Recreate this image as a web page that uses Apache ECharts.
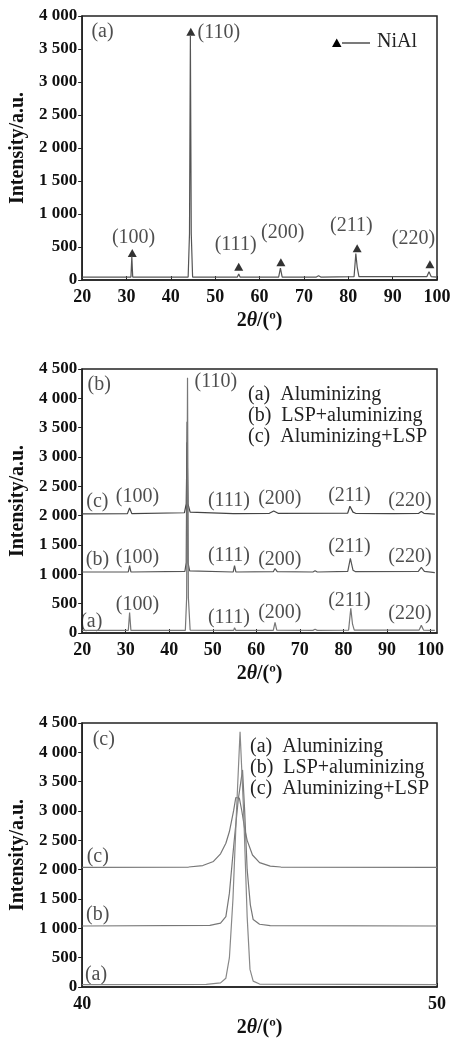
<!DOCTYPE html>
<html><head><meta charset="utf-8">
<style>html,body{margin:0;padding:0;background:#fff}#c{width:455px;height:1039px}</style>
<script src="https://cdn.jsdelivr.net/npm/echarts@6/dist/echarts.min.js"></script>
</head><body><div id="c"></div>
<script>
// ---------- Panel 1: NiAl pattern ----------
const p1Pattern = [[20,45],[31.0,45],[31.2,360],[31.4,45],[43.9,45],[44.2,700],[44.4,3700],[44.6,700],[44.9,45],
  [55.0,45],[55.3,90],[55.6,45],[64.3,45],[64.7,180],[65.1,45],[72.8,45],[73.3,65],[73.8,45],
  [81.3,50],[81.7,400],[82.0,200],[82.4,50],[97.7,50],[98.2,125],[98.7,50],[100,45]];
const p1Triangles = [[31.3,410],[44.5,3760],[55.3,200],[64.8,270],[82.0,480],[98.4,240]];
const p1LabelsCenter = [[31.6,636,'(100)'],[54.6,530,'(111)'],[65.2,710,'(200)'],[80.7,820,'(211)'],[94.7,620,'(220)']];
const p1LabelsLeft = [[46.0,3745,'(110)'],[22.1,3760,'(a)']];

// ---------- Panel 2: three samples, 20-100 ----------
const seriesNames = ['(a)  Aluminizing','(b)  LSP+aluminizing','(c)  Aluminizing+LSP'];
const p2A = [[20,45],[30.6,45],[30.9,350],[31.2,45],[43.7,45],[44.0,600],[44.2,4350],[44.4,600],[44.8,50],
  [54.8,45],[55.0,90],[55.3,45],[63.9,45],[64.3,180],[64.7,50],[73,45],[73.5,65],[74,45],
  [81.2,50],[81.7,420],[82.1,150],[82.5,50],[97.4,50],[97.9,130],[98.4,50],[101,45]];
const p2B = [[20,1040],[30.6,1040],[30.9,1150],[31.2,1040],[43.6,1050],[43.9,1200],[44.1,3600],[44.3,1200],[44.7,1060],
  [54.7,1040],[55.0,1150],[55.3,1040],[63.9,1045],[64.3,1100],[64.8,1045],[73,1040],[73.5,1060],[74,1040],
  [81,1050],[81.6,1270],[82.2,1070],[82.8,1045],[97.2,1050],[97.9,1120],[98.6,1050],[101,1030]];
const p2C = [[20,2030],[30.4,2035],[30.9,2130],[31.4,2035],[43.5,2050],[43.9,2200],[44.1,3250],[44.3,2200],[44.8,2060],
  [54.7,2035],[55.0,2060],[55.3,2035],[63.0,2040],[64.0,2080],[65,2040],[81,2045],[81.5,2160],[82.2,2060],[82.8,2040],
  [90.8,2035],[91.2,2055],[91.6,2035],[97.3,2040],[97.9,2070],[98.5,2040],[101,2025]];
const p2LabelsCenter = [
  [23.5,2233,'(c)'],[32.7,2318,'(100)'],[53.7,2250,'(111)'],[65.4,2284,'(200)'],[81.4,2335,'(211)'],[95.3,2250,'(220)'],
  [23.5,1244,'(b)'],[32.7,1278,'(100)'],[53.7,1312,'(111)'],[65.4,1244,'(200)'],[81.4,1466,'(211)'],[95.3,1295,'(220)'],
  [22.1,187,'(a)'],[32.7,477,'(100)'],[53.7,256,'(111)'],[65.4,341,'(200)'],[81.4,545,'(211)'],[95.3,324,'(220)'],
  [23.9,4227,'(b)']];
const p2LabelsLeft = [[45.8,4278,'(110)']];

// ---------- Panel 3: zoom on (110), 40-50 ----------
const p3A = [[40,40],[43.5,45],[43.9,70],[44.05,150],[44.15,500],[44.25,1500],[44.35,3000],[44.45,4350],
  [44.55,3000],[44.65,1200],[44.73,300],[44.82,100],[45,50],[50,40]];
const p3B = [[40,1040],[43.6,1050],[43.9,1090],[44.05,1200],[44.15,1600],[44.27,2400],[44.4,3200],[44.52,3700],
  [44.58,3000],[44.65,2000],[44.74,1400],[44.82,1150],[45.0,1070],[45.3,1045],[50,1040]];
const p3C = [[40,2040],[43.0,2045],[43.4,2070],[43.7,2140],[43.9,2270],[44.05,2450],[44.15,2650],[44.27,3010],
  [44.33,3230],[44.38,3200],[44.43,3220],[44.5,3000],[44.58,2700],[44.65,2500],[44.8,2250],[45.0,2120],
  [45.3,2060],[45.6,2045],[50,2040]];
const p3LabelsCenter = [[40.61,4210,'(c)'],[40.44,2216,'(c)'],[40.44,1227,'(b)'],[40.39,205,'(a)']];

const yTicks1 = {min:0, max:4000, interval:500};
const yTicks23 = {min:0, max:4500, interval:500};

const SERIF = '"Liberation Serif","DejaVu Serif",serif';
function fmtY(v){ return v>=1000 ? Math.floor(v/1000)+' '+String(v%1000).padStart(3,'0') : String(v); }

const grids = [
  {left:76, top:16, width:361, height:264},
  {left:76, top:369, width:361, height:264},
  {left:76, top:723, width:361, height:264}
].map(g=>Object.assign(g,{show:true, borderColor:'#222', borderWidth:1.5, backgroundColor:'transparent'}));

function xAx(i,min,max,interval){
  return {type:'value', gridIndex:i, min, max, interval,
    name:'{n|2}{i|θ}{n|/(º)}', nameLocation:'middle', nameGap:31,
    nameTextStyle:{rich:{n:{fontFamily:SERIF,fontSize:20,fontWeight:'bold',color:'#111'},i:{fontFamily:SERIF,fontSize:20,fontWeight:'bold',fontStyle:'italic',color:'#111'}}},
    axisLine:{show:true,onZero:false,lineStyle:{color:'#222',width:1.5}},
    axisTick:{show:true,inside:true,length:4,lineStyle:{color:'#222'}},
    axisLabel:{margin:8,fontFamily:SERIF,fontSize:18,fontWeight:'bold',color:'#111',
      formatter:v=> (Math.abs(v%10)<1e-9 ? String(v) : ''), showMaxLabel: max%10===0},
    splitLine:{show:false}};
}
function yAx(i,t){
  return {type:'value', gridIndex:i, min:t.min, max:t.max, interval:t.interval,
    name:'Intensity/a.u.', nameLocation:'middle', nameGap:54,
    nameTextStyle:{fontFamily:SERIF,fontSize:20,fontWeight:'bold',color:'#111'},
    axisLine:{show:true,lineStyle:{color:'#222',width:1.5}},
    axisTick:{show:true,inside:false,length:4,lineStyle:{color:'#222'}},
    axisLabel:{margin:5,fontFamily:SERIF,fontSize:17,fontWeight:'bold',color:'#111',formatter:fmtY},
    splitLine:{show:false}};
}
function lineS(name,data,i,color){
  return {type:'line', name, xAxisIndex:i, yAxisIndex:i, data, showSymbol:false, symbol:'none',
    lineStyle:{color, width:1.2}, itemStyle:{color}, silent:true};
}
function labelS(data,i,align){
  return {type:'scatter', xAxisIndex:i, yAxisIndex:i, data, symbolSize:0, silent:true,
    label:{show:true, position:'inside', align, verticalAlign:'middle', formatter:p=>p.value[2],
      fontFamily:SERIF, fontSize:20, color:'#222'}};
}
const legendText = {fontFamily:SERIF, fontSize:20, color:'#222', lineHeight:20};

const option = {
  animation:false,
  backgroundColor:'#fff',
  grid: grids,
  xAxis:[xAx(0,20,100,10), xAx(1,20,101.5,10), xAx(2,40,50,10)],
  yAxis:[yAx(0,yTicks1), yAx(1,yTicks23), yAx(2,yTicks23)],
  legend:[
    {data:seriesNames, orient:'vertical', left:243, top:385, padding:0, icon:'none', itemWidth:0, itemHeight:14, itemGap:1,
      selectedMode:false, textStyle:legendText},
    {data:seriesNames, orient:'vertical', left:245, top:737, padding:0, icon:'none', itemWidth:0, itemHeight:14, itemGap:1,
      selectedMode:false, textStyle:legendText}
  ],
  series:[
    lineS('NiAl', p1Pattern, 0, '#555'),
    {type:'scatter', name:'NiAl', xAxisIndex:0, yAxisIndex:0, data:p1Triangles, symbol:'triangle', symbolSize:[9,8],
      itemStyle:{color:'#000'}, silent:true},
    labelS(p1LabelsCenter,0,'center'),
    labelS(p1LabelsLeft,0,'left'),
    lineS(seriesNames[2], p2C, 1, '#444'),
    lineS(seriesNames[1], p2B, 1, '#555'),
    lineS(seriesNames[0], p2A, 1, '#777'),
    labelS(p2LabelsCenter,1,'center'),
    labelS(p2LabelsLeft,1,'left'),
    lineS(seriesNames[2], p3C, 2, '#777'),
    lineS(seriesNames[1], p3B, 2, '#777'),
    lineS(seriesNames[0], p3A, 2, '#888'),
    labelS(p3LabelsCenter,2,'center')
  ],
  graphic:[
    {type:'polygon', shape:{points:[[336.7,38.5],[341.5,47],[332,47]]}, style:{fill:'#000'}},
    {type:'line', shape:{x1:342,y1:43,x2:370,y2:43}, style:{stroke:'#222',lineWidth:1.2}},
    {type:'text', left:377, top:32, style:{text:'NiAl', font:'20px '+SERIF, fill:'#222'}}
  ]
};
const chart = echarts.init(document.getElementById('c'));
chart.setOption(option);
</script></body></html>
